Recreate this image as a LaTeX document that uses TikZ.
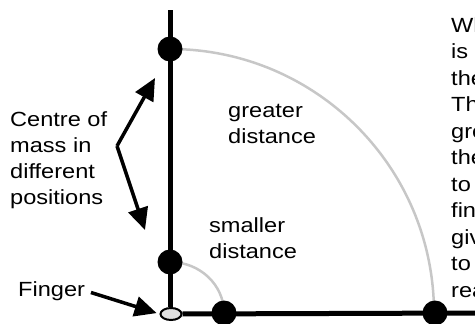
\documentclass[tikz,border=0pt]{standalone}
\usepackage{fontspec}
\setmainfont{Liberation Sans}[FakeStretch=1.15]
\usetikzlibrary{arrows.meta,positioning,shapes.geometric}
\tikzset{>={Triangle[length=22pt,width=20pt]}}
\definecolor{swinggray}{rgb}{0.78, 0.78, 0.78}
\definecolor{fingergray}{rgb}{0.88, 0.88, 0.88}
\tikzset{
  dot/.style={circle, fill=black, inner sep=0pt, minimum size=25pt},
  rod/.style={line width=5pt},
  swing/.style={swinggray, line width=2.5pt},
  pointer/.style={->, line width=3.5pt},
  lbl/.style={anchor=base west, inner sep=0pt, align=left,
    font=\fontsize{20.5}{26}\selectfont},
}

\begin{document}
\begin{tikzpicture}[x=1pt, y=-1pt]
                \useasboundingbox (0, 0) rectangle (475, 324);%
                \clip (0, 0) rectangle (475, 324);%
                % the two paths of the centre of mass
                \draw [swing] (170, 49) arc[start angle=270, end angle=360, radius=264];%
                \draw [swing] (170, 262) arc[start angle=270, end angle=360, x radius=54, y radius=51];%
                % stick upright and fallen
                \node [ellipse, draw, line width=2pt, fill=fingergray, minimum width=21pt, minimum height=12pt, inner sep=0pt] (finger) at (171, 314) {};%
                \coordinate (rodtop) at (170, 10);%
                \coordinate (rodend) at (475, 313);%
                \draw [rod] (rodtop) -- (finger.north -| rodtop);%
                \draw [rod] (finger.east) -- (rodend);%
                \node [dot] (hightop) at (170, 49) {};%
                \node [dot] (lowtop) at (170, 262) {};%
                \node [dot] (lowfall) at (224, 313) {};%
                \node [dot] (highfall) at (435, 313) {};%
                % labels (placed by the baseline of their last line)
                \node [lbl] (com) at (10, 204) {Centre of\\mass in\\different\\positions};%
                \node [lbl] (great) at (228, 143) {greater\\distance};%
                \node [lbl] (small) at (209, 258) {smaller\\distance};%
                \node [lbl] (fingerlbl) at (18, 296) {Finger};%
                \node [lbl, font=\fontsize{20.5}{26.5}\selectfont] (note) at (451, 297) {When the centre\\is higher up\\the stick falls\\The distance is\\greater, so\\the stick takes\\to fall off the\\finger, which\\gives more time\\to react\\react.};%
                % arrows
                \coordinate (bend) at (117, 146);%
                \coordinate (uptip) at (155, 78);%
                \coordinate (lowtip) at (145, 230);%
                \draw [pointer] (bend) -- (uptip);%
                \draw [pointer] (bend) -- (lowtip);%
                \draw [pointer, shorten <=6pt, shorten >=3pt] (fingerlbl.east) -- (finger.west);%
              \end{tikzpicture}
\end{document}
